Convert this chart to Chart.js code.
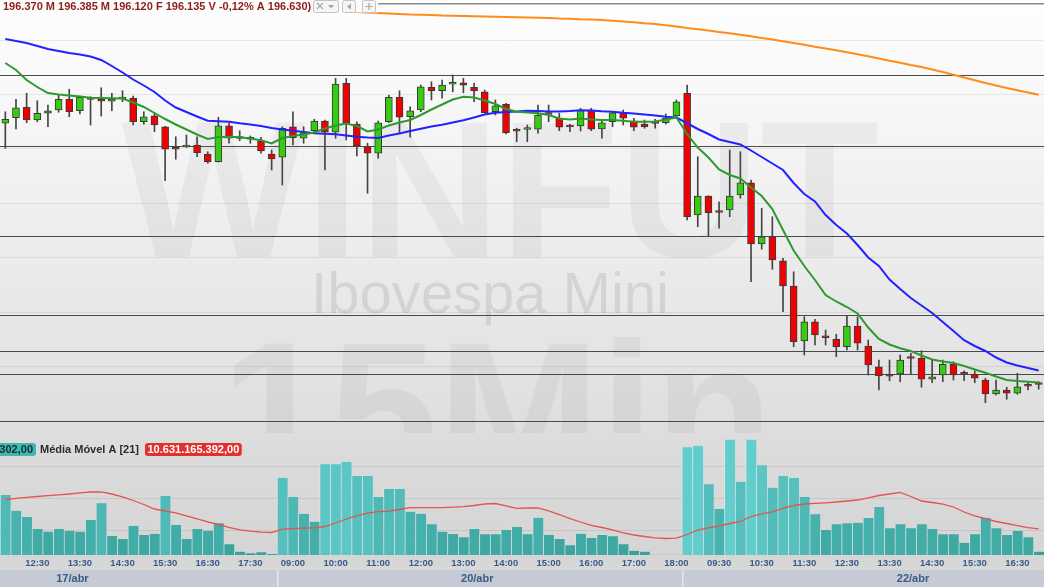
<!DOCTYPE html>
<html>
<head>
<meta charset="utf-8">
<script src="https://cdn.jsdelivr.net/npm/chart.js@4.4.0/dist/chart.umd.min.js"></script>
<style>
  html, body { margin: 0; padding: 0; }
  body {
    width: 1044px; height: 587px; overflow: hidden; position: relative;
    background: linear-gradient(#fefefe 0px, #f6f6f6 120px, #ececec 250px, #e2e2e2 380px, #dadada 470px, #d5d5d5 555px, #d8d8d8 570px);
  }
  #price { position: absolute; left: 0; top: 0; }
  #vol { position: absolute; left: 0; top: 433px; }
</style>
</head>
<body>
<canvas id="price" width="1044" height="433"></canvas>
<canvas id="vol" width="1044" height="154"></canvas>
<script>
// ---------- categorias (candles de 15 min) ----------
const times17 = ['11:45','12:00','12:15','12:30','12:45','13:00','13:15','13:30','13:45','14:00','14:15','14:30','14:45',
  '15:00','15:15','15:30','15:45','16:00','16:15','16:30','16:45','17:00','17:15','17:30','17:45','18:00'];
const times20 = ['08:45','09:00','09:15','09:30','09:45','10:00','10:15','10:30','10:45','11:00','11:15','11:30','11:45',
  '12:00','12:15','12:30','12:45','13:00','13:15','13:30','13:45','14:00','14:15','14:30','14:45','15:00','15:15','15:30',
  '15:45','16:00','16:15','16:30','16:45','17:00','17:15','17:30','17:45','18:00'];
const times22 = ['08:45','09:00','09:15','09:30','09:45','10:00','10:15','10:30','10:45','11:00','11:15','11:30','11:45',
  '12:00','12:15','12:30','12:45','13:00','13:15','13:30','13:45','14:00','14:15','14:30','14:45','15:00','15:15','15:30',
  '15:45','16:00','16:15','16:30','16:45','17:00'];
const days = ['17/abr', '20/abr', '22/abr'];

// ---------- OHLC ----------
const opens = [
  201535,201645,201855,201600,201735,201800,202015,201785,202020,201980,201975,202020,202035,201565,201685,201465,201020,201060,201100,200915,200765,201485,201235,201220,201180,200920,
  200855,201465,201235,201385,201580,201355,202335,201520,201065,200935,201565,202055,201665,201800,202255,202185,202315,202345,202255,202165,201765,201915,201380,201410,201415,201715,201635,201465,201480,201800,201420,201565,201745,201580,201520,201535,201545,201680,
  202135,199700,200080,199755,199800,200100,200345,199120,199265,198785,198280,197180,197565,197285,197215,197065,197480,197080,196665,196480,196520,196835,196835,196415,196500,196715,196520,196515,196400,196120,196200,196135,196280,196315
];
const highs = [
  201765,202015,202135,201985,201900,202100,202215,202080,202065,202245,202135,202185,202080,201765,201745,201475,201265,201300,201265,200965,201655,201535,201385,201280,201255,201000,
  201465,201765,201465,201615,201600,202435,202435,201565,201135,201580,202100,202185,201865,202300,202365,202400,202500,202435,202335,202200,202000,201935,201435,201500,201900,201900,201735,201515,201835,201835,201600,201765,201800,201635,201600,201615,201720,202000,
  202300,200865,200085,199965,201000,200965,200400,199835,199665,198835,198565,197665,197615,197400,197315,197680,197665,197200,196800,196800,196900,196935,196985,196800,196800,196765,196585,196585,196435,196400,196255,196535,196345,196365
];
const lows = [
  201035,201420,201545,201565,201465,201755,201665,201720,201500,201680,201785,201965,201500,201515,201365,200385,200815,201050,200865,200735,200760,201135,201185,201135,200935,200600,
  200300,201100,201135,201365,200600,201235,201200,200880,200135,200835,201545,201335,201255,201765,202000,202035,202165,202145,201965,201735,201700,201320,201165,201165,201335,201565,201385,201365,201380,201385,201235,201465,201500,201385,201435,201435,201520,201665,
  199600,199465,199265,199435,199665,200035,198365,199015,198615,197765,197065,196900,197100,197100,196865,197000,197000,196500,196200,196385,196365,196520,196255,196345,196365,196400,196385,196345,195945,196100,196015,196115,196200,196215
];
const closes = [
  201615,201845,201600,201735,201785,202015,201765,202055,202010,201975,202020,202025,201565,201665,201500,201015,201015,201085,200945,200765,201485,201235,201230,201215,200980,200820,
  201435,201245,201345,201580,201355,202320,201535,201080,200935,201545,202055,201655,201785,202265,202185,202300,202355,202295,202180,201745,201885,201345,201375,201415,201700,201710,201455,201460,201800,201415,201545,201745,201635,201455,201465,201530,201635,201965,
  199665,200080,199745,199750,200080,200345,199120,199265,198800,198280,197165,197565,197300,197245,197065,197480,197135,196700,196480,196475,196800,196830,196415,196465,196715,196500,196515,196435,196120,196200,196135,196265,196275,196310
];

// ---------- medias ----------
const maGreen = [
  202740,202600,202400,202260,202140,202110,202090,202070,202045,202040,202035,202030,201950,201860,201740,201620,201510,201410,201310,201220,201260,201265,201255,201230,201195,201130,
  201240,201280,201310,201350,201430,201490,201530,201480,201370,201410,201490,201550,201600,201700,201810,201910,202010,202065,202050,201990,201920,201820,201765,201750,201735,201700,201630,201610,201630,201610,201600,201600,201585,201565,201565,201570,201610,201650,
  201320,201050,200850,200610,200500,200430,200250,200080,199820,199400,198990,198680,198400,198100,197970,197860,197730,197450,197220,197110,197035,196980,196890,196810,196770,196740,196680,196610,196545,196470,196400,196380,196365,196350
];
const maBlue = [
  203220,203180,203140,203080,203020,202980,202940,202910,202870,202800,202680,202550,202410,202290,202160,201990,201850,201760,201670,201585,201575,201565,201535,201510,201480,201440,
  201410,201385,201360,201335,201325,201315,201290,201265,201250,201240,201290,201330,201380,201425,201470,201505,201550,201595,201650,201710,201745,201760,201770,201785,201780,201770,201770,201780,201795,201790,201775,201765,201745,201730,201710,201690,201665,201650,
  201535,201420,201320,201210,201160,201110,200990,200860,200730,200600,200340,200120,199970,199700,199500,199330,199100,198850,198680,198410,198220,198040,197890,197740,197560,197380,197195,197080,196980,196850,196750,196690,196640,196590
];
const maOrange = [
  null,null,null,null,null,null,null,null,null,null,null,null,null,null,null,null,null,null,null,null,null,null,null,null,null,null,
  null,null,203845,203830,203810,203790,203775,203760,203750,203740,203730,203720,203710,203705,203700,203690,203685,203680,203675,203670,203665,203660,203655,203650,203645,203640,203630,203625,203615,203610,203600,203585,203570,203555,203535,203520,203495,203470,
  203440,203415,203390,203360,203335,203305,203275,203240,203210,203175,203140,203105,203065,203030,202995,202955,202915,202875,202830,202785,202745,202700,202660,202610,202560,202505,202450,202395,202340,202290,202240,202195,202150,202105
];

// linhas horizontais desenhadas e grade do preco
const priceLevels = [203925, 202500, 201080, 199260, 197680, 196980, 196520, 195580];
const priceGrid = [203200, 202120, 201030, 199940, 198850, 197760, 196670];

// ---------- volume financeiro (bilhoes R$) ----------
const volumeBi = [
  21.16,16.25,14.28,10.53,9.69,10.53,10.00,9.69,13.34,18.56,8.34,7.41,11.47,8.66,9.06,20.84,11.78,7.41,10.53,10.00,12.31,5.75,3.44,2.94,3.25,2.72,
  26.56,20.53,15.31,12.81,30.75,30.75,31.56,27.09,27.09,20.53,23.03,23.03,15.94,15.31,12.00,9.69,8.97,7.94,10.53,8.88,8.88,10.22,11.16,8.88,14.06,8.66,7.41,5.44,9.06,7.72,8.66,8.25,5.75,3.75,3.44,2.5,2.5,2.5,
  36.06,36.56,24.50,16.78,38.44,25.31,38.44,30.44,23.44,27.09,26.47,20.53,15.13,10.22,12.00,12.31,12.50,13.97,17.41,10.75,12.00,10.75,12.00,10.53,8.88,8.88,6.25,8.88,14.06,10.75,8.66,9.91,7.94,3.44
];
const volMA21 = [
  19.75,20.13,20.44,20.69,20.94,21.22,21.47,21.84,22.09,22.13,21.47,20.59,19.44,18.19,16.78,16.16,15.59,14.66,13.66,12.78,11.94,11.06,10.28,9.84,9.53,9.44,
  10.47,10.66,10.78,10.88,11.31,12.41,13.66,14.66,15.47,15.97,16.09,16.63,17.19,17.19,17.19,17.22,17.34,17.50,17.88,18.34,18.50,17.78,17.00,17.09,17.16,16.16,15.06,13.81,12.72,11.69,11.00,10.28,9.34,8.66,8.19,7.78,7.56,7.66,
  8.81,10.22,10.91,11.53,12.25,12.88,14.44,15.28,15.91,16.94,17.88,18.34,18.53,18.72,18.97,19.28,19.59,20.28,21.00,21.47,22.00,20.69,19.28,18.81,18.34,17.41,15.84,14.66,13.78,12.88,12.25,11.56,10.97,10.59
];
const volGrid = [10, 20, 30];

const headerText = '196.370 M 196.385 M 196.120 F 196.135 V -0,12% A 196.630)';
const volNowText = '302,00';
const volMaText = '10.631.165.392,00';

// ---------- montagem ----------
const labels = [...times17, ...times20, ...times22];
const dayOf = [...times17.map(() => 0), ...times20.map(() => 1), ...times22.map(() => 2)];
const bodies = opens.map((o, i) => [Math.min(o, closes[i]), Math.max(o, closes[i])]);
const wicks = lows.map((l, i) => [l, highs[i]]);
const bodyColors = opens.map((o, i) => closes[i] >= o ? '#35cc12' : '#f00000');

const FONT = '"Liberation Sans", Arial, sans-serif';
Chart.defaults.font.family = FONT;

function rrect(c, x, y, w, h, r, fill, stroke) {
  c.beginPath();
  if (c.roundRect) c.roundRect(x, y, w, h, r); else c.rect(x, y, w, h);
  if (fill) { c.fillStyle = fill; c.fill(); }
  if (stroke) { c.strokeStyle = stroke; c.lineWidth = 1; c.stroke(); }
}

// marca d'agua atras de tudo
const watermark = {
  id: 'watermark',
  beforeDraw(chart) {
    const c = chart.ctx;
    c.save();
    c.textAlign = 'center';
    c.textBaseline = 'alphabetic';
    c.fillStyle = 'rgba(0,0,0,0.045)';
    c.font = 'bold 195px ' + FONT;
    c.fillText('WINFUT', 500, 257);
    c.fillStyle = 'rgba(0,0,0,0.09)';
    c.font = '58px ' + FONT;
    c.fillText('Ibovespa Mini', 490, 313);
    c.fillStyle = 'rgba(0,0,0,0.045)';
    c.font = 'bold 195px ' + FONT;
    c.fillText('15Min', 497, 478);
    c.restore();
  }
};

// cabecalho OHLC + botoes
const priceHeader = {
  id: 'priceHeader',
  afterDraw(chart) {
    const c = chart.ctx;
    c.save();
    c.fillStyle = '#fdfdfd';
    c.fillRect(0, 0, 378, 12.5);
    c.font = 'bold 11px ' + FONT;
    c.fillStyle = '#8c1c1c';
    c.textBaseline = 'middle';
    c.textAlign = 'left';
    c.fillText(headerText, 3, 6.5);
    // botoes
    rrect(c, 313.5, 0.5, 25, 12, 2, '#f6f6f6', '#c2c2c2');
    rrect(c, 342.5, 0.5, 13, 12, 2, '#f6f6f6', '#c2c2c2');
    rrect(c, 362.5, 0.5, 13, 12, 2, '#f6f6f6', '#c2c2c2');
    c.strokeStyle = '#a6a6a6';
    c.fillStyle = '#a6a6a6';
    c.lineWidth = 1.2;
    c.beginPath();
    c.moveTo(317, 3); c.lineTo(323, 9); c.moveTo(323, 3); c.lineTo(317, 9);
    c.moveTo(369, 3); c.lineTo(369, 10); c.moveTo(365.5, 6.5); c.lineTo(372.5, 6.5);
    c.stroke();
    c.beginPath(); c.moveTo(328, 5); c.lineTo(334, 5); c.lineTo(331, 8.5); c.closePath(); c.fill();
    c.beginPath(); c.moveTo(351, 3.5); c.lineTo(351, 9.5); c.lineTo(347, 6.5); c.closePath(); c.fill();
    c.restore();
  }
};

// faixa das datas
const dateBand = {
  id: 'dateBand',
  afterDraw(chart) {
    const c = chart.ctx;
    const x = chart.scales.x;
    const top = 137, h = chart.height - top;
    const step = x.getPixelForValue(1) - x.getPixelForValue(0);
    c.save();
    c.fillStyle = '#c6cad4';
    c.fillRect(0, top, chart.width, h);
    c.fillStyle = '#e4e6ec';
    for (let i = 1; i < labels.length; i++) {
      if (dayOf[i] !== dayOf[i - 1]) {
        const px = Math.round(x.getPixelForValue(i) - step / 2);
        c.fillRect(px, top, 1.5, h);
      }
    }
    const labelAt = [6.3, 44.3, 85.2];
    c.font = 'bold 11px ' + FONT;
    c.fillStyle = '#3b5a86';
    c.textAlign = 'center';
    c.textBaseline = 'middle';
    days.forEach((d, k) => {
      c.fillText(d, x.getPixelForValue(0) + labelAt[k] * step, top + h / 2 + 0.5);
    });
    c.restore();
  }
};

// legenda do volume
const volHeader = {
  id: 'volHeader',
  afterDraw(chart) {
    const c = chart.ctx;
    c.save();
    c.font = 'bold 11px ' + FONT;
    c.textBaseline = 'middle';
    const y = 16;
    rrect(c, -8, y - 6, 44, 13, 3, '#3fb8b3');
    c.fillStyle = '#1f2b2b';
    c.textAlign = 'right';
    c.fillText(volNowText, 33, y + 0.5);
    c.textAlign = 'left';
    c.fillStyle = '#2c2c2c';
    c.fillText('Média Móvel A [21]', 40, y + 0.5);
    const w = c.measureText(volMaText).width;
    rrect(c, 145, y - 6, w + 5, 13, 3, '#e2312d');
    c.fillStyle = '#ffffff';
    c.fillText(volMaText, 147.5, y + 0.5);
    c.restore();
  }
};

function volColor(v) {
  const t = Math.max(0, Math.min(1, (v - 4) / 32));
  const a = [56, 162, 156], b = [98, 205, 205];
  const m = a.map((k, j) => Math.round(k + (b[j] - k) * t));
  return 'rgb(' + m.join(',') + ')';
}

// ---------- grafico de precos ----------
new Chart(document.getElementById('price'), {
  type: 'bar',
  data: {
    labels,
    datasets: [
      { type: 'line', data: maGreen, borderColor: '#2e9a2e', borderWidth: 2, pointRadius: 0, order: 0 },
      { type: 'line', data: maBlue, borderColor: '#2222ff', borderWidth: 2, pointRadius: 0, order: 0 },
      { type: 'line', data: maOrange, borderColor: '#ff8c1a', borderWidth: 2, pointRadius: 0, order: 0 },
      { data: bodies, backgroundColor: bodyColors, borderColor: '#383838', borderWidth: 1, borderSkipped: false,
        barThickness: 7, minBarLength: 2, grouped: false, order: 1 },
      { data: wicks, backgroundColor: '#454545', barThickness: 1, grouped: false, order: 2 }
    ]
  },
  options: {
    responsive: false, animation: false, devicePixelRatio: 1,
    layout: { padding: 0 },
    plugins: { legend: { display: false }, tooltip: { enabled: false } },
    scales: {
      x: { display: false, offset: true },
      y: {
        position: 'right', min: 195340, max: 204000,
        border: { display: false },
        ticks: { display: false },
        grid: {
          drawTicks: false,
          color: ctx => priceLevels.includes(ctx.tick.value) ? (ctx.tick.value === priceLevels[0] ? '#8a8a8a' : '#4a4a4a') : 'rgba(0,0,0,0.07)',
          lineWidth: ctx => (ctx.tick.value === priceLevels[0] ? 1.6 : 1)
        },
        afterBuildTicks: s => { s.ticks = [...priceGrid, ...priceLevels].sort((a, b) => a - b).map(v => ({ value: v })); }
      }
    }
  },
  plugins: [watermark, priceHeader]
});

// ---------- grafico de volume ----------
new Chart(document.getElementById('vol'), {
  type: 'bar',
  data: {
    labels,
    datasets: [
      { type: 'line', data: volMA21, borderColor: '#e4534d', borderWidth: 1.3, pointRadius: 0, order: 0 },
      { data: volumeBi, backgroundColor: volumeBi.map(volColor), borderColor: 'rgba(255,255,255,0.28)',
        borderWidth: { left: 1, right: 0, top: 0, bottom: 0 }, borderSkipped: false,
        barPercentage: 1, categoryPercentage: 1, clip: 0, order: 1 }
    ]
  },
  options: {
    responsive: false, animation: false, devicePixelRatio: 1,
    layout: { padding: 0 },
    plugins: { legend: { display: false }, tooltip: { enabled: false } },
    scales: {
      x: {
        offset: true,
        grid: { display: false, drawTicks: false },
        border: { display: false },
        ticks: {
          autoSkip: false, maxRotation: 0, minRotation: 0, padding: 3,
          color: '#3b5a86', font: { size: 9.5, weight: 'bold' },
          callback: (v, i) => (i % 4 === 3 ? labels[i] : '')
        },
        afterFit: s => { s.height = 32; }
      },
      y: {
        position: 'right', min: 2.41, max: 40.53,
        border: { display: false },
        ticks: { display: false },
        grid: { drawTicks: false, color: 'rgba(0,0,0,0.08)' },
        afterBuildTicks: s => { s.ticks = volGrid.map(v => ({ value: v })); }
      }
    }
  },
  plugins: [dateBand, volHeader]
});
</script>
</body>
</html>
